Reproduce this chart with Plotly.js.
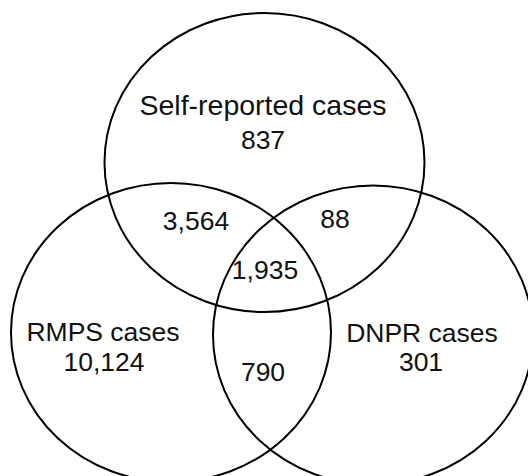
<!DOCTYPE html>
<html>
<head>
<meta charset="utf-8">
<script src="https://cdn.plot.ly/plotly-3.0.1.min.js"></script>
<style>html,body{margin:0;padding:0;background:#fff;}#chart{width:528px;height:476px;}</style>
</head>
<body>
<div id="chart"></div>
<script>
// ---- data ----
const setNames = ["Self-reported cases", "RMPS cases", "DNPR cases"];
const uniqueCounts = [837, 10124, 301];
const pairNames = ["Self-reported & RMPS", "Self-reported & DNPR", "RMPS & DNPR"];
const pairCounts = [3564, 88, 790];
const tripleCount = [1935];

// ---- layout geometry (pixel-space of plot) ----
const circles = [
  {cx: 264.5, cy: 162.5, rx: 160, ry: 149.5},
  {cx: 171,   cy: 332.5, rx: 160, ry: 149.5},
  {cx: 373,   cy: 335,   rx: 160, ry: 149.5}
];
const setNamePos = [[263, 108], [103, 334], [422, 335]];
const setNameSize = [28.5, 26.5, 26.5];
const uniquePos  = [[263, 142], [104, 364], [421, 364]];
const pairPos    = [[196, 223], [335, 221], [263, 374]];
const triplePos  = [[265, 272]];

const fmt = v => v.toLocaleString('en-US');

const fam = 'Liberation Sans, Arial, sans-serif';
const col = '#111';

function textTrace(pos, labels, name, size) {
  return {
    type: 'scatter', mode: 'text', name: name,
    x: pos.map(p => p[0]), y: pos.map(p => p[1]),
    text: labels, textposition: 'middle center',
    textfont: {family: fam, size: size, color: col},
    hoverinfo: 'text', showlegend: false
  };
}

const traces = [
  textTrace(setNamePos, setNames, 'sets', setNameSize),
  textTrace(uniquePos, uniqueCounts.map(fmt), 'unique', 26.5),
  textTrace(pairPos, pairCounts.map(fmt), 'pairs', 26.5),
  textTrace(triplePos, tripleCount.map(fmt), 'all', 26.5)
];

const shapes = circles.map(c => ({
  type: 'circle', xref: 'x', yref: 'y',
  x0: c.cx - c.rx, x1: c.cx + c.rx, y0: c.cy - c.ry, y1: c.cy + c.ry,
  line: {color: '#000', width: 2}, fillcolor: 'rgba(0,0,0,0)', layer: 'below'
}));

const layout = {
  width: 528, height: 476,
  margin: {l: 0, r: 0, t: 0, b: 0},
  paper_bgcolor: '#fff', plot_bgcolor: '#fff',
  xaxis: {range: [0, 528], visible: false, fixedrange: true},
  yaxis: {range: [476, 0], visible: false, fixedrange: true},
  shapes: shapes,
  showlegend: false
};

Plotly.newPlot('chart', traces, layout, {displayModeBar: false, staticPlot: true});
</script>
</body>
</html>
